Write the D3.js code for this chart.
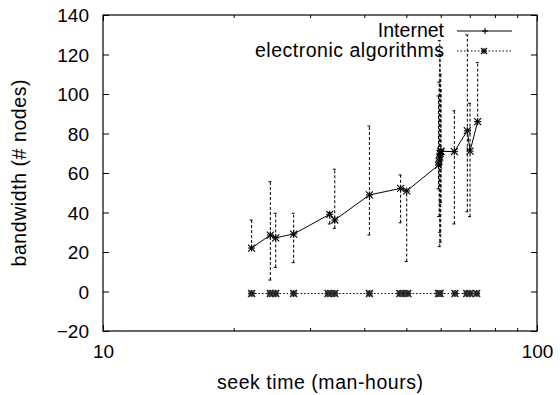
<!DOCTYPE html>
<html>
<meta charset="utf-8">
<style>
  body { margin: 0; background: #fff; }
  text { font-family: "Liberation Sans", Arial, sans-serif; fill: #000; }
</style>
<body>
<div id="chartContainer"></div>
<script src="https://d3js.org/d3.v7.min.js"></script>
<script type="text/javascript">
  "use strict";

  // Internet series: seek time, bandwidth, error bar low, error bar high
  var internetX  = [22.0, 24.3, 25.0, 27.5, 33.3, 34.2, 41.1, 48.5, 50.1,
                    59.3, 59.5, 59.7, 59.8, 60.0, 60.1, 64.5, 69.1, 70.1, 73.0];
  var internetY  = [22.0, 28.6, 27.2, 29.1, 39.1, 36.2, 48.9, 52.2, 50.9,
                    64.0, 66.0, 68.0, 70.0, 71.0, 71.0, 70.8, 81.4, 71.1, 86.0];
  var internetLo = [22.0, 5.8, 12.2, 14.6, 34.2, 32.0, 28.6, 34.8, 15.2,
                    52.0, 38.0, 22.7, 30.0, 25.0, 45.0, 34.2, 40.4, 37.9, 86.0];
  var internetHi = [36.2, 55.6, 39.6, 39.6, 40.0, 61.9, 83.8, 59.0, 50.9,
                    99.0, 106.0, 127.0, 120.0, 110.0, 102.0, 91.5, 129.9, 95.3, 115.9];

  // electronic algorithms series, all sitting just under zero
  var electronicX = [22.0, 24.3, 24.6, 25.0, 27.5, 33.0, 33.5, 34.2, 41.1,
                     48.3, 49.2, 50.4, 59.3, 59.8, 64.7, 68.9, 70.1, 72.6];
  var electronicY = [-1, -1, -1, -1, -1, -1, -1, -1, -1,
                     -1, -1, -1, -1, -1, -1, -1, -1, -1];

  // tick labels
  var yTicks = [-20, 0, 20, 40, 60, 80, 100, 120, 140];
  var xMajorTicks = [10, 100];
  var xMinorTicks = [20, 30, 40, 50, 60, 70, 80, 90];

  var svg = d3.select("#chartContainer").append("svg")
      .attr("width", 560)
      .attr("height", 395);

  var plotLeft = 103, plotRight = 537, plotTop = 15, plotBottom = 331;

  var x = d3.scaleLog().domain([10, 100]).range([plotLeft, plotRight]);
  var y = d3.scaleLinear().domain([-20, 140]).range([plotBottom, plotTop]);

  // axes with inward ticks, like gnuplot
  var yLeft = svg.append("g")
      .attr("transform", "translate(" + plotLeft + ",0)")
      .call(d3.axisLeft(y).tickValues(yTicks).tickSize(-6).tickPadding(14)
            .tickFormat(d3.format("d")));
  svg.append("g")
      .attr("transform", "translate(" + plotRight + ",0)")
      .call(d3.axisRight(y).tickValues(yTicks).tickSize(-6).tickFormat(""));

  var xBottom = svg.append("g")
      .attr("transform", "translate(0," + plotBottom + ")")
      .call(d3.axisBottom(x).tickValues(xMajorTicks).tickSize(-6).tickPadding(13)
            .tickFormat(d3.format("d")));
  svg.append("g")
      .attr("transform", "translate(0," + plotBottom + ")")
      .call(d3.axisBottom(x).tickValues(xMinorTicks).tickSize(-3).tickFormat(""));
  svg.append("g")
      .attr("transform", "translate(0," + plotTop + ")")
      .call(d3.axisTop(x).tickValues(xMajorTicks).tickSize(-6).tickFormat(""));
  svg.append("g")
      .attr("transform", "translate(0," + plotTop + ")")
      .call(d3.axisTop(x).tickValues(xMinorTicks).tickSize(-3).tickFormat(""));

  svg.selectAll(".domain").remove();
  svg.selectAll(".tick line").attr("stroke", "#000");
  svg.selectAll(".tick text")
      .style("font-family", "Liberation Sans, Arial, sans-serif")
      .style("font-size", "19px")
      .attr("fill", "#000");
  yLeft.selectAll(".tick text").attr("dy", "0.36em");
  xBottom.selectAll(".tick text").attr("dy", "0.72em");

  // frame
  svg.append("rect")
      .attr("x", plotLeft).attr("y", plotTop)
      .attr("width", plotRight - plotLeft).attr("height", plotBottom - plotTop)
      .attr("fill", "none")
      .attr("stroke", "#000")
      .attr("stroke-width", 1.2);

  // axis titles
  svg.append("text")
      .attr("x", (plotLeft + plotRight) / 2)
      .attr("y", 389)
      .attr("text-anchor", "middle")
      .attr("textLength", 206)
      .attr("lengthAdjust", "spacing")
      .style("font-size", "19.5px")
      .text("seek time (man-hours)");
  svg.append("text")
      .attr("transform", "translate(26," + ((plotTop + plotBottom) / 2) + ") rotate(-90)")
      .attr("text-anchor", "middle")
      .attr("textLength", 187)
      .attr("lengthAdjust", "spacing")
      .style("font-size", "19.5px")
      .text("bandwidth (# nodes)");

  // draws an asterisk at px,py
  function star(g, px, py, r, plusOnly) {
      g.append("line").attr("x1", px - r).attr("x2", px + r).attr("y1", py).attr("y2", py);
      g.append("line").attr("x1", px).attr("x2", px).attr("y1", py - r).attr("y2", py + r);
      if (!plusOnly) {
          g.append("line").attr("x1", px - r).attr("x2", px + r).attr("y1", py - r).attr("y2", py + r);
          g.append("line").attr("x1", px - r).attr("x2", px + r).attr("y1", py + r).attr("y2", py - r);
      }
  }

  // error bars of the Internet series
  var bars = svg.append("g")
      .attr("stroke", "#000")
      .attr("stroke-width", 1);
  internetX.forEach(function (v, i) {
      var px = x(v);
      bars.append("line")
          .attr("x1", px).attr("x2", px)
          .attr("y1", y(internetLo[i])).attr("y2", y(internetHi[i]))
          .attr("stroke-dasharray", "3,2");
      bars.append("line")
          .attr("x1", px - 2).attr("x2", px + 1)
          .attr("y1", y(internetLo[i])).attr("y2", y(internetLo[i]));
      bars.append("line")
          .attr("x1", px - 2).attr("x2", px + 1)
          .attr("y1", y(internetHi[i])).attr("y2", y(internetHi[i]));
  });

  // Internet line
  var internetData = internetX.map(function (v, i) { return [v, internetY[i]]; });
  var line = d3.line()
      .x(function (d) { return x(d[0]); })
      .y(function (d) { return y(d[1]); });
  svg.append("path")
      .datum(internetData)
      .attr("d", line)
      .attr("fill", "none")
      .attr("stroke", "#000")
      .attr("stroke-width", 1);
  var pts = svg.append("g").attr("stroke", "#000").attr("stroke-width", 1.1);
  internetData.forEach(function (d) { star(pts, x(d[0]), y(d[1]), 3.5, false); });

  // electronic algorithms line
  var electronicData = electronicX.map(function (v, i) { return [v, electronicY[i]]; });
  svg.append("path")
      .datum(electronicData)
      .attr("d", line)
      .attr("fill", "none")
      .attr("stroke", "#000")
      .attr("stroke-width", 1)
      .attr("stroke-dasharray", "1.5,2");
  var epts = svg.append("g").attr("stroke", "#222").attr("stroke-width", 1.3);
  electronicData.forEach(function (d) {
      epts.append("rect")
          .attr("x", x(d[0]) - 3).attr("y", y(d[1]) - 3)
          .attr("width", 6).attr("height", 6)
          .attr("fill", "#666").attr("stroke", "none");
      star(epts, x(d[0]), y(d[1]), 3.5, false);
  });

  // legend
  var legend = svg.append("g");
  legend.append("text")
      .attr("x", 444).attr("y", 37)
      .attr("text-anchor", "end")
      .style("font-size", "19.5px")
      .text("Internet");
  legend.append("text")
      .attr("x", 444).attr("y", 57)
      .attr("text-anchor", "end")
      .attr("textLength", 189)
      .attr("lengthAdjust", "spacing")
      .style("font-size", "19.5px")
      .text("electronic algorithms");
  legend.append("line")
      .attr("x1", 457).attr("x2", 512).attr("y1", 31).attr("y2", 31)
      .attr("stroke", "#000");
  legend.append("line")
      .attr("x1", 457).attr("x2", 512).attr("y1", 51).attr("y2", 51)
      .attr("stroke", "#000")
      .attr("stroke-dasharray", "1.5,2");
  var keys = legend.append("g").attr("stroke", "#000").attr("stroke-width", 1.1);
  star(keys, 485, 31, 3, true);
  star(keys, 484, 51, 3, false);
</script>
</body>
</html>
